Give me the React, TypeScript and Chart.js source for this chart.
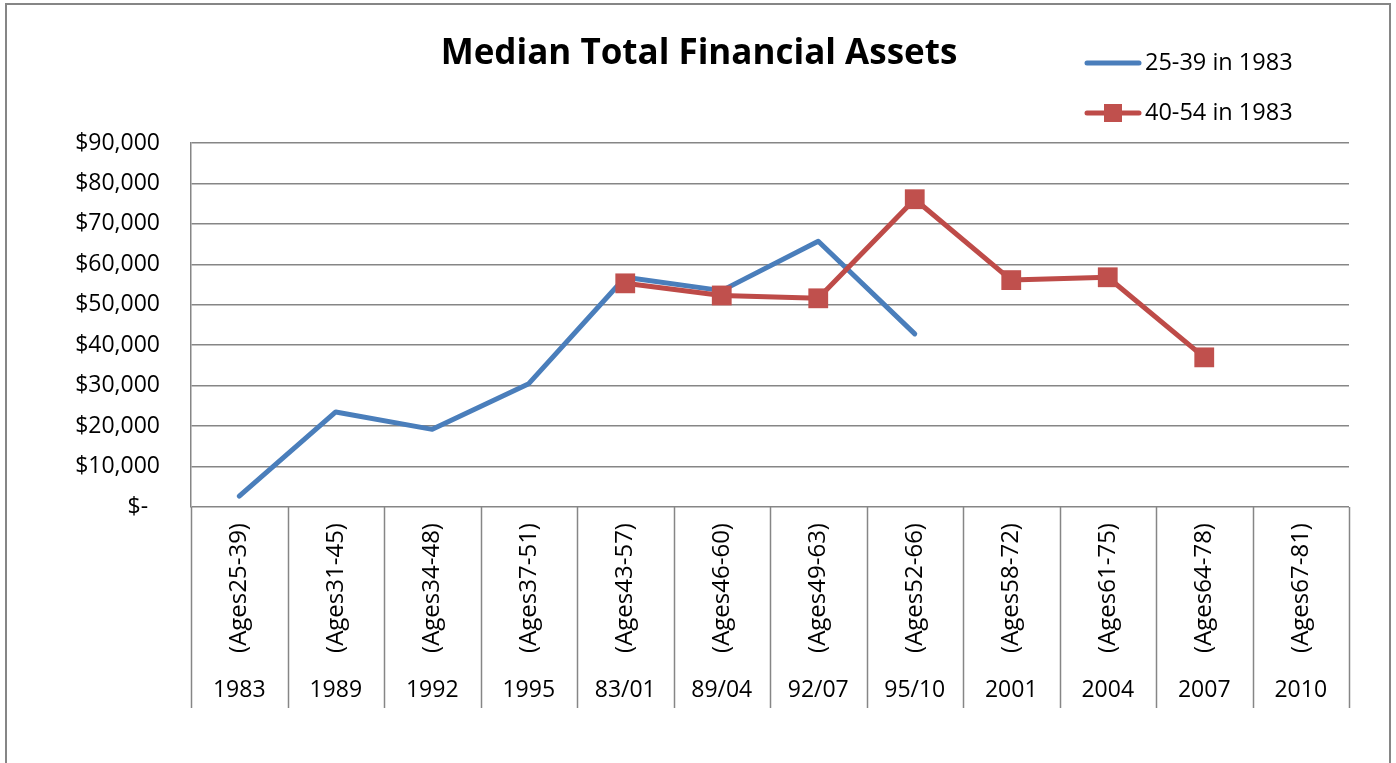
import React, { useEffect, useRef } from 'react';
import { Chart, registerables } from 'chart.js';

Chart.register(...registerables);

const years = ['1983', '1989', '1992', '1995', '83/01', '89/04', '92/07', '95/10', '2001', '2004', '2007', '2010'];
const ageGroups = ['(Ages25-39)', '(Ages31-45)', '(Ages34-48)', '(Ages37-51)', '(Ages43-57)', '(Ages46-60)', '(Ages49-63)', '(Ages52-66)', '(Ages58-72)', '(Ages61-75)', '(Ages64-78)', '(Ages67-81)'];
const cohort2539 = [2700, 23500, 19200, 30500, 56800, 53500, 65700, 42800, null, null, null, null];
const cohort4054 = [null, null, null, null, 55300, 52300, 51600, 76100, 56100, 56800, 37000, null];
const seriesNames = ['25-39 in 1983', '40-54 in 1983'];
const chartTitle = 'Median Total Financial Assets';

const FONT = '"Open Sans", "Noto Sans", sans-serif';
const GRAY = '#868686';
const BLUE = '#4A7EBB';
const RED = '#BE4B48';
const RED_FILL = '#C0504D';

const decorPlugin = {
  id: 'decor',
  beforeDraw(chart: any) {
    const ctx = chart.ctx;
    ctx.save();
    ctx.fillStyle = '#ffffff';
    ctx.fillRect(0, 0, chart.width, chart.height);
    ctx.restore();
  },
  afterDraw(chart: any) {
    const ctx = chart.ctx;
    const xs = chart.scales.x;
    const area = chart.chartArea;
    ctx.save();
    // outer border
    ctx.strokeStyle = GRAY;
    ctx.lineWidth = 2;
    ctx.strokeRect(6, 4, 1384, 800);

    // title
    ctx.fillStyle = '#000';
    ctx.font = `bold 35px ${FONT}`;
    ctx.textAlign = 'center';
    ctx.textBaseline = 'middle';
    ctx.fillText(chartTitle, 699, 54);

    // legend
    const ds = chart.data.datasets;
    const legendY = [63, 113];
    ctx.font = `23.5px ${FONT}`;
    ctx.textAlign = 'left';
    for (let i = 0; i < 2; i++) {
      const y = legendY[i];
      ctx.strokeStyle = ds[i].borderColor;
      ctx.lineWidth = 5;
      ctx.lineCap = 'round';
      ctx.beginPath();
      ctx.moveTo(1087, y);
      ctx.lineTo(1139, y);
      ctx.stroke();
      if (i === 1) {
        ctx.fillStyle = RED_FILL;
        ctx.fillRect(1104, y - 9, 18, 18);
      }
      ctx.fillStyle = '#000';
      ctx.fillText(ds[i].label, 1145, y);
    }

    // category separators
    ctx.strokeStyle = GRAY;
    ctx.lineWidth = 1.5;
    ctx.lineCap = 'butt';
    const n = years.length;
    const step = (xs.getPixelForValue(1) - xs.getPixelForValue(0));
    for (let i = 0; i <= n; i++) {
      const x = Math.round(xs.getPixelForValue(0) - step / 2 + i * step) + 0.5;
      ctx.beginPath();
      ctx.moveTo(x, area.bottom);
      ctx.lineTo(x, 708);
      ctx.stroke();
    }

    // labels
    ctx.fillStyle = '#000';
    ctx.font = `24px ${FONT}`;
    for (let i = 0; i < n; i++) {
      const x = xs.getPixelForValue(i);
      ctx.save();
      ctx.translate(x, 588);
      ctx.rotate(-Math.PI / 2);
      ctx.textAlign = 'center';
      ctx.textBaseline = 'middle';
      ctx.fillText(ageGroups[i], 0, 0);
      ctx.restore();
    }
    ctx.font = `23px ${FONT}`;
    for (let i = 0; i < n; i++) {
      const x = xs.getPixelForValue(i);
      ctx.textAlign = 'center';
      ctx.textBaseline = 'middle';
      ctx.fillText(years[i], x, 690);
    }
    ctx.restore();
  },
};

export default function App() {
  const ref = useRef<HTMLCanvasElement>(null);
  useEffect(() => {
    document.body.style.margin = '0';
    const chart = new Chart(ref.current as HTMLCanvasElement, {
      type: 'line',
      data: {
        labels: years,
        datasets: [
          {
            label: seriesNames[0],
            data: cohort2539,
            borderColor: BLUE,
            backgroundColor: BLUE,
            borderWidth: 5,
            pointRadius: 0,
            pointHoverRadius: 0,
            order: 1,
            spanGaps: false,
            borderCapStyle: 'round',
            borderJoinStyle: 'round',
          },
          {
            label: seriesNames[1],
            data: cohort4054,
            borderColor: RED,
            backgroundColor: RED_FILL,
            borderWidth: 5,
            pointStyle: 'rect',
            pointRadius: 14,
            pointBorderWidth: 0,
            pointBackgroundColor: RED_FILL,
            order: 0,
            spanGaps: false,
            borderJoinStyle: 'round',
          },
        ],
      },
      options: {
        responsive: false,
        animation: false,
        devicePixelRatio: 1,
        layout: { padding: { top: 143, right: 47, bottom: 256, left: 0 } },
        plugins: {
          legend: { display: false },
          title: { display: false },
          tooltip: { enabled: false },
        },
        scales: {
          x: {
            type: 'category',
            offset: true,
            display: false,
          },
          y: {
            min: 0,
            max: 90000,
            afterFit: (scale: any) => {
              scale.width = 191;
            },
            ticks: {
              stepSize: 10000,
              padding: 31,
              color: '#000',
              font: { family: FONT, size: 23 },
              callback: (v: any) => (Number(v) === 0 ? '$-  ' : '$' + Number(v).toLocaleString('en-US')),
            },
            grid: {
              color: GRAY,
              lineWidth: 1.5,
              drawTicks: false,
            },
            border: { display: true, color: GRAY, width: 1.5 },
          },
        },
      },
      plugins: [decorPlugin],
    });
    return () => chart.destroy();
  }, []);
  return (
    <div style={{ width: 1396, height: 763 }}>
      <canvas ref={ref} width={1396} height={763} style={{ display: 'block' }} />
    </div>
  );
}
